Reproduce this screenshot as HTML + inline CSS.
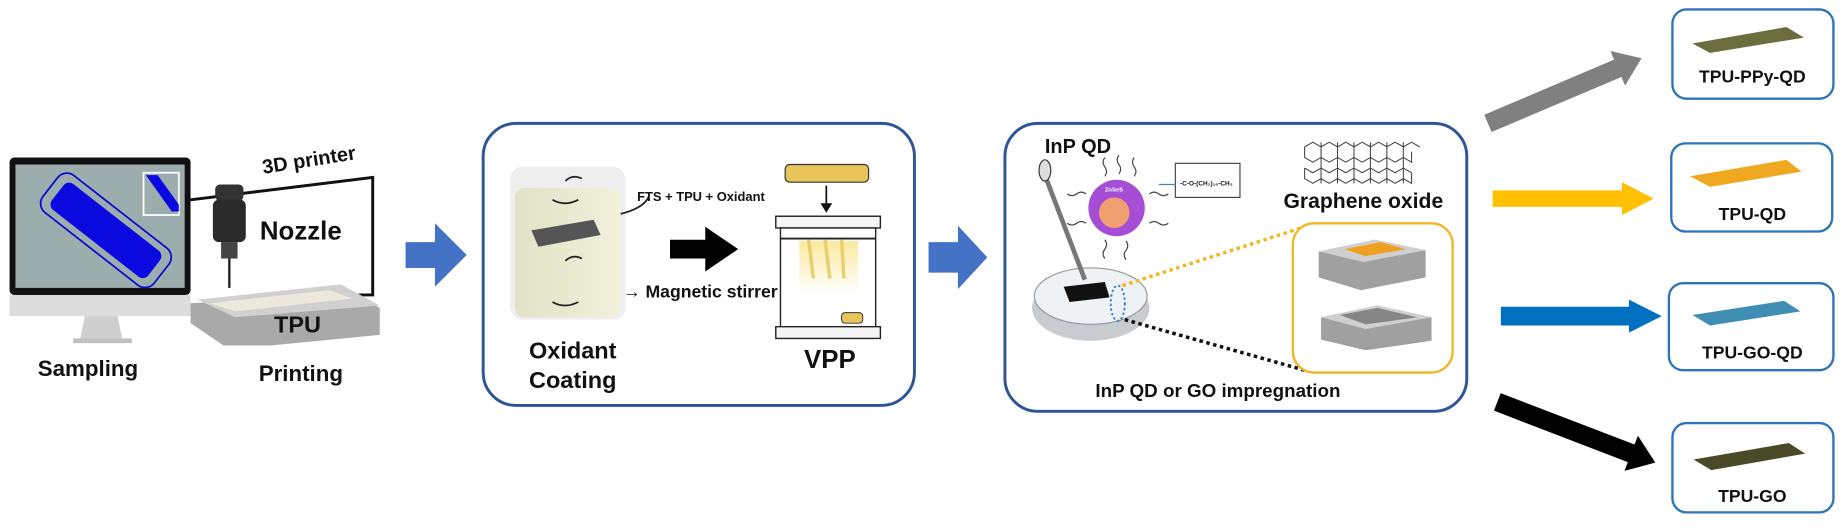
<!DOCTYPE html>
<html><head><meta charset="utf-8"><style>
html,body{margin:0;padding:0;background:#fff;overflow:hidden;}
svg{display:block;}
text{font-family:"Liberation Sans",sans-serif;font-weight:bold;fill:#111;}
</style></head><body>
<svg width="1843" height="530" viewBox="0 0 1568 451" xmlns="http://www.w3.org/2000/svg">
<defs>
<linearGradient id="lightglow" x1="0" y1="0" x2="0" y2="1"><stop offset="0" stop-color="#fbe9a0"/><stop offset="1" stop-color="#fff"/></linearGradient>
<linearGradient id="liq" x1="0" y1="0" x2="1" y2="0"><stop offset="0" stop-color="#e2e2c6"/><stop offset="1" stop-color="#f1f1dc"/></linearGradient>
</defs>
<!-- Monitor -->
<rect x="8" y="134" width="154" height="117" rx="4" fill="#111"/>
<rect x="13" y="140" width="144" height="105" fill="#9cadae"/>
<rect x="8" y="251" width="154" height="18" fill="#dcdcdc"/>
<polygon points="72,269 100,269 104,289 68,289" fill="#cfcfcf"/>
<rect x="62" y="288" width="50" height="4" fill="#c0c0c0"/>
<g transform="rotate(38 90 196)"><rect x="30" y="176" width="120" height="40" rx="10" fill="none" stroke="#0a0ad0" stroke-width="1.5"/><rect x="38" y="182" width="104" height="28" rx="6" fill="#0a0ae0"/></g>
<rect x="122" y="147" width="30" height="36" fill="#9cadae" stroke="#fff" stroke-width="1.5"/>
<polygon points="124,149 134,149 152,174 152,180 146,180" fill="#0a0ae0"/>
<!-- printer wire -->
<polyline points="162,170 317,151 317,251 305,251" fill="none" stroke="#111" stroke-width="2.5"/>
<text x="224" y="148" font-size="17" transform="rotate(-9 224 148)">3D printer</text>
<!-- nozzle -->
<rect x="183" y="157" width="24" height="14" rx="4" fill="#333"/>
<rect x="181" y="170" width="28" height="36" rx="5" fill="#2a2a2a"/>
<rect x="188" y="206" width="14" height="14" fill="#444"/>
<line x1="195" y1="220" x2="195" y2="245" stroke="#222" stroke-width="2"/>
<text x="221" y="204" font-size="22">Nozzle</text>
<!-- TPU base -->
<polygon points="162,258 300,250 323,262 323,285 230,294 190,294 162,275" fill="#a9a9a9"/>
<polygon points="168,255 290,242 323,260 200,270" fill="#d0d0d0"/>
<polygon points="178,258 280,247 300,254 200,265" fill="#ece8dc"/>
<text x="233" y="283" font-size="20">TPU</text>
<text x="32" y="320" font-size="19">Sampling</text>
<text x="220" y="324" font-size="19">Printing</text>
<!-- blue arrow 1 -->
<polygon points="345,206 370,206 370,190 397,217 370,244 370,228 345,228" fill="#4472c4"/>
<!-- Box 1 -->
<rect x="411" y="105" width="367" height="240" rx="28" fill="#fff" stroke="#2f5597" stroke-width="2.5"/>
<!-- beaker -->
<rect x="434" y="142" width="98" height="130" rx="10" fill="#eeeeee"/>
<rect x="438" y="160" width="90" height="110" rx="8" fill="url(#liq)"/>
<polygon points="452,196 505,187 511,200 458,210" fill="#555"/>
<g fill="none" stroke="#222" stroke-width="1.5"><path d="M495,152 q-8,-4 -14,2"/><path d="M470,170 q10,6 22,0"/><path d="M495,220 q-8,-4 -14,2"/><path d="M470,257 q10,6 22,0"/><path d="M528,182 q20,-5 24,-15"/></g>
<text x="542" y="171" font-size="11">FTS + TPU + Oxidant</text>
<text x="530" y="253" font-size="15" fill="#333">→ Magnetic stirrer</text>
<text x="450" y="305" font-size="20">Oxidant</text>
<text x="450" y="330" font-size="20">Coating</text>
<!-- black arrow -->
<polygon points="570,204 600,204 600,193 628,212 600,231 600,220 570,220" fill="#000"/>
<!-- VPP -->
<rect x="668" y="140" width="71" height="15" rx="4" fill="#e7c55a" stroke="#333" stroke-width="1"/>
<line x1="703" y1="158" x2="703" y2="175" stroke="#111" stroke-width="1.5"/><polygon points="698,173 708,173 703,181" fill="#111"/>
<rect x="660" y="184" width="89" height="10" fill="#f4f4f4" stroke="#222" stroke-width="1.2"/>
<rect x="664" y="194" width="81" height="84" fill="#fff" stroke="#222" stroke-width="1.2"/>
<rect x="680" y="205" width="50" height="45" fill="url(#lightglow)"/>
<line x1="664" y1="203" x2="745" y2="203" stroke="#222" stroke-width="1.5"/>
<g stroke="#e8cf70" stroke-width="3"><line x1="688" y1="204" x2="692" y2="237"/><line x1="702" y1="204" x2="706" y2="237"/><line x1="716" y1="204" x2="718" y2="237"/></g>
<rect x="716" y="266" width="18" height="9" rx="3" fill="#e7c55a" stroke="#333" stroke-width="0.8"/>
<rect x="660" y="278" width="89" height="10" fill="#f4f4f4" stroke="#222" stroke-width="1.2"/>
<text x="706" y="313" font-size="22" text-anchor="middle">VPP</text>
<!-- blue arrow 2 -->
<polygon points="790,206 815,206 815,192 840,219 815,246 815,232 790,232" fill="#4472c4"/>
<!-- Box 2 -->
<rect x="855" y="105" width="393" height="245" rx="28" fill="#fff" stroke="#2f5597" stroke-width="2.5"/>
<text x="889" y="130" font-size="17">InP QD</text>
<g fill="none" stroke="#444" stroke-width="1">
<path d="M940,150 q3,-4 0,-8 q-3,-4 0,-8"/><path d="M952,148 q3,-4 0,-8 q-3,-4 0,-8"/><path d="M965,150 q3,-4 0,-8 q-3,-4 0,-8"/><path d="M924,165 q-4,-3 -8,0 q-4,3 -8,0"/><path d="M924,190 q-4,-3 -8,0 q-4,3 -8,0"/><path d="M978,165 q4,-3 8,0 q4,3 8,0"/><path d="M978,190 q4,-3 8,0 q4,3 8,0"/><path d="M940,204 q3,4 0,8 q-3,4 0,8"/><path d="M958,205 q3,4 0,8 q-3,4 0,8"/>
</g>
<circle cx="950" cy="177" r="24" fill="#a64dd6"/>
<circle cx="948" cy="181" r="13" fill="#f0a070"/>
<text x="940" y="163" font-size="5" style="fill:#fff">ZnSeS</text>
<rect x="1000" y="139" width="55" height="29" fill="#fff" stroke="#444" stroke-width="1"/>
<text x="1004" y="158" font-size="5.5">-C-O-(CH₂)₁₆-CH₃</text>
<line x1="986" y1="157" x2="1000" y2="157" stroke="#5080c0" stroke-width="1"/>
<ellipse cx="928" cy="262" rx="50" ry="28" fill="#c8ccd0"/>
<ellipse cx="928" cy="252" rx="48" ry="24" fill="#eef2f5" stroke="#999"/>
<line x1="889" y1="149" x2="923" y2="238" stroke="#777" stroke-width="4"/>
<ellipse cx="889" cy="145" rx="5" ry="9" fill="#ddd" stroke="#333"/>
<polygon points="905,244 940,240 944,253 910,257" fill="#111"/>
<ellipse cx="951" cy="258" rx="6" ry="15" fill="none" stroke="#3b7dc4" stroke-width="1.6" stroke-dasharray="2 2"/>
<line x1="955" y1="243" x2="1110" y2="193" stroke="#f2b624" stroke-width="3" stroke-dasharray="3 3"/>
<line x1="957" y1="272" x2="1110" y2="315" stroke="#111" stroke-width="3" stroke-dasharray="3 3"/>
<g fill="none" stroke="#444" stroke-width="0.9">
<path d="M1110,125 l7,-4 l7,4 l7,-4 l7,4 l7,-4 l7,4 l7,-4 l7,4 l7,-4 l7,4 l7,-4 l7,4 l7,-4 l7,4 M1110,125 v9 l7,4 l7,-4 l7,4 l7,-4 l7,4 l7,-4 l7,4 l7,-4 l7,4 l7,-4 l7,4 l7,-4 l7,4 v-9 M1110,143 l7,4 l7,-4 l7,4 l7,-4 l7,4 l7,-4 l7,4 l7,-4 l7,4 l7,-4 l7,4 l7,-4 l7,4 M1110,143 v9 l7,4 l7,-4 l7,4 l7,-4 l7,4 l7,-4 l7,4 l7,-4 l7,4 l7,-4 l7,4 l7,-4 l7,4 v-9"/>
<path d="M1124,121 v35 M1138,121 v35 M1152,121 v35 M1166,121 v35 M1180,121 v35 M1194,121 v35"/>
</g>
<text x="1092" y="177" font-size="18">Graphene oxide</text>
<rect x="1100" y="190" width="136" height="127" rx="18" fill="#fff" stroke="#f2b624" stroke-width="2"/>
<polygon points="1122,214 1170,204 1213,213 1213,236 1158,247 1122,236" fill="#a0a0a0"/>
<polygon points="1122,214 1170,204 1213,213 1160,223" fill="#cfcfcf"/>
<polygon points="1144,212 1175,206 1196,212 1162,218" fill="#f0a020"/>
<polygon points="1124,270 1172,260 1218,270 1218,290 1162,298 1124,289" fill="#a0a0a0"/>
<polygon points="1124,270 1172,260 1218,270 1162,280" fill="#cfcfcf"/>
<polygon points="1140,268 1172,262 1206,270 1162,276" fill="#666" opacity="0.7"/>
<text x="932" y="338" font-size="16">InP QD or GO impregnation</text>
<!-- output arrows -->
<polygon points="0,-8 120,-8 120,-16 142,0 120,16 120,8 0,8" fill="#808080" transform="translate(1266,105) rotate(-23)"/>
<polygon points="1270,162 1380,162 1380,155 1407,169 1380,183 1380,176 1270,176" fill="#ffc000"/>
<polygon points="1277,261 1386,261 1386,255 1414,269 1386,283 1386,277 1277,277" fill="#0070c0"/>
<polygon points="0,-8 122,-8 122,-16 144,0 122,16 122,8 0,8" fill="#000" transform="translate(1274,342) rotate(21)"/>
<g fill="#fff" stroke="#2e75b6" stroke-width="2">
<rect x="1423" y="8" width="137" height="76" rx="12"/>
<rect x="1422" y="122" width="137" height="75" rx="12"/>
<rect x="1420" y="241" width="140" height="74" rx="12"/>
<rect x="1423" y="360" width="137" height="76" rx="12"/>
</g>
<polygon points="1440,37 1520,23 1535,32 1455,45" fill="#6b6d3c"/>
<polygon points="1438,150 1520,136 1533,146 1455,159" fill="#f0a820"/>
<polygon points="1440,268 1518,256 1532,265 1455,277" fill="#3f8fb5"/>
<polygon points="1441,391 1522,377 1536,386 1456,400" fill="#4b4a28"/>
<text x="1491" y="70" font-size="15" text-anchor="middle">TPU-PPy-QD</text>
<text x="1491" y="187" font-size="15" text-anchor="middle">TPU-QD</text>
<text x="1491" y="305" font-size="15" text-anchor="middle">TPU-GO-QD</text>
<text x="1491" y="427" font-size="15" text-anchor="middle">TPU-GO</text>
</svg>
</body></html>
